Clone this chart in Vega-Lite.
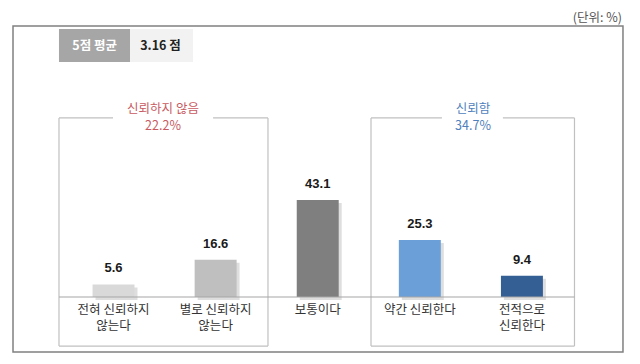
{
  "$schema": "https://vega.github.io/schema/vega-lite/v6.json",
  "width": 640,
  "height": 364,
  "padding": 0,
  "autosize": {"type": "fit", "contains": "padding"},
  "background": "#ffffff",
  "config": {"view": {"stroke": null}},
  "datasets": {
    "bars": [
      {"cat": "전혀 신뢰하지 않는다", "label": "전혀 신뢰하지\n않는다", "value": 5.6},
      {"cat": "별로 신뢰하지 않는다", "label": "별로 신뢰하지\n않는다", "value": 16.6},
      {"cat": "보통이다", "label": "보통이다", "value": 43.1},
      {"cat": "약간 신뢰한다", "label": "약간 신뢰한다", "value": 25.3},
      {"cat": "전적으로 신뢰한다", "label": "전적으로\n신뢰한다", "value": 9.4}
    ],
    "frame": [{"x1": 0.0157, "x2": 5.99, "y1": 120.4, "y2": -24.4}],
    "boxlines": [
      {"x1": 0.466, "x2": 0.466, "y1": 79.6, "y2": -21.8},
      {"x1": 2.513, "x2": 2.513, "y1": 79.6, "y2": -21.8},
      {"x1": 0.466, "x2": 2.513, "y1": -21.8, "y2": -21.8},
      {"x1": 0.466, "x2": 0.995, "y1": 79.6, "y2": 79.6},
      {"x1": 1.975, "x2": 2.513, "y1": 79.6, "y2": 79.6},
      {"x1": 3.522, "x2": 3.522, "y1": 79.6, "y2": -21.8},
      {"x1": 5.515, "x2": 5.515, "y1": 79.6, "y2": -21.8},
      {"x1": 3.522, "x2": 5.515, "y1": -21.8, "y2": -21.8},
      {"x1": 3.522, "x2": 4.217, "y1": 79.6, "y2": 79.6},
      {"x1": 4.814, "x2": 5.515, "y1": 79.6, "y2": 79.6}
    ],
    "baseline": [{"x1": 0.466, "x2": 5.515, "y1": 0, "y2": 0}],
    "badge": [
      {"part": "label", "x1": 0.466, "x2": 1.162, "y1": 119.1, "y2": 104.4},
      {"part": "value", "x1": 1.162, "x2": 1.779, "y1": 119.1, "y2": 104.4}
    ],
    "badgetext": [
      {"part": "label", "text": "5점 평균", "x": 0.816, "y": 111.7},
      {"part": "value", "text": "3.16 점", "x": 1.46, "y": 111.7}
    ],
    "groups": [
      {"group": "neg", "text": "신뢰하지 않음\n22.2%", "x": 1.485, "y": 86.2},
      {"group": "pos", "text": "신뢰함\n34.7%", "x": 4.521, "y": 86.2}
    ],
    "unit": [{"text": "(단위: %)", "x": 5.98, "y": 123.9}]
  },
  "resolve": {"scale": {"x": "independent", "color": "independent"}},
  "layer": [
    {
      "data": {"name": "bars"},
      "encoding": {
        "x": {
          "field": "cat",
          "type": "nominal",
          "sort": null,
          "axis": null,
          "scale": {
            "domain": ["전혀 신뢰하지 않는다", "별로 신뢰하지 않는다", "보통이다", "약간 신뢰한다", "전적으로 신뢰한다"],
            "paddingInner": 0.589,
            "paddingOuter": 0.9287,
            "align": 0.488
          }
        }
      },
      "layer": [
        {
          "mark": {"type": "bar", "color": "#000000", "opacity": 0.13, "xOffset": 3, "yOffset": 3},
          "encoding": {
            "y": {"field": "value", "type": "quantitative", "axis": null, "scale": {"domain": [-29.78, 132], "nice": false, "zero": false}}
          }
        },
        {
          "mark": {"type": "bar"},
          "encoding": {
            "y": {"field": "value", "type": "quantitative", "axis": null, "scale": {"domain": [-29.78, 132], "nice": false, "zero": false}},
            "color": {
              "field": "cat",
              "type": "nominal",
              "legend": null,
              "scale": {
                "domain": ["전혀 신뢰하지 않는다", "별로 신뢰하지 않는다", "보통이다", "약간 신뢰한다", "전적으로 신뢰한다"],
                "range": ["#d9d9d9", "#bfbfbf", "#7f7f7f", "#6a9fd8", "#335f95"]
              }
            }
          }
        },
        {
          "mark": {"type": "text", "font": "Liberation Sans", "fontSize": 13, "fontWeight": "bold", "color": "#1a1a1a", "baseline": "alphabetic", "dy": -12},
          "encoding": {
            "y": {"field": "value", "type": "quantitative", "axis": null, "scale": {"domain": [-29.78, 132], "nice": false, "zero": false}},
            "text": {"field": "value", "type": "quantitative", "format": ".1f"}
          }
        },
        {
          "mark": {"type": "text", "font": "Noto Sans CJK KR", "fontSize": 12.5, "color": "#333333", "baseline": "top", "dy": 7, "lineBreak": "\n", "lineHeight": 16},
          "encoding": {
            "y": {"datum": 0, "type": "quantitative", "axis": null, "scale": {"domain": [-29.78, 132], "nice": false, "zero": false}},
            "text": {"field": "label"}
          }
        }
      ]
    },
    {
      "resolve": {"scale": {"color": "independent"}},
      "layer": [
        {
          "data": {"name": "frame"},
          "mark": {"type": "rect", "fillOpacity": 0, "stroke": "#808080", "strokeWidth": 1.5},
          "encoding": {
            "x": {"field": "x1", "type": "quantitative", "axis": null, "scale": {"domain": [-0.1117, 6.1567], "nice": false, "zero": false}},
            "x2": {"field": "x2"},
            "y": {"field": "y1", "type": "quantitative", "axis": null, "scale": {"domain": [-29.78, 132], "nice": false, "zero": false}},
            "y2": {"field": "y2"}
          }
        },
        {
          "data": {"name": "boxlines"},
          "mark": {"type": "rule", "color": "#c0c0c0", "strokeWidth": 1.2},
          "encoding": {
            "x": {"field": "x1", "type": "quantitative", "axis": null, "scale": {"domain": [-0.1117, 6.1567], "nice": false, "zero": false}},
            "x2": {"field": "x2"},
            "y": {"field": "y1", "type": "quantitative", "axis": null, "scale": {"domain": [-29.78, 132], "nice": false, "zero": false}},
            "y2": {"field": "y2"}
          }
        },
        {
          "data": {"name": "baseline"},
          "mark": {"type": "rule", "color": "#a6a6a6", "strokeWidth": 1.2},
          "encoding": {
            "x": {"field": "x1", "type": "quantitative", "axis": null, "scale": {"domain": [-0.1117, 6.1567], "nice": false, "zero": false}},
            "x2": {"field": "x2"},
            "y": {"field": "y1", "type": "quantitative", "axis": null, "scale": {"domain": [-29.78, 132], "nice": false, "zero": false}},
            "y2": {"field": "y2"}
          }
        },
        {
          "data": {"name": "badge"},
          "mark": {"type": "rect"},
          "encoding": {
            "x": {"field": "x1", "type": "quantitative", "axis": null, "scale": {"domain": [-0.1117, 6.1567], "nice": false, "zero": false}},
            "x2": {"field": "x2"},
            "y": {"field": "y1", "type": "quantitative", "axis": null, "scale": {"domain": [-29.78, 132], "nice": false, "zero": false}},
            "y2": {"field": "y2"},
            "color": {"field": "part", "type": "nominal", "legend": null, "scale": {"domain": ["label", "value"], "range": ["#a6a6a6", "#f2f2f2"]}}
          }
        },
        {
          "data": {"name": "badgetext"},
          "mark": {"type": "text", "font": "Noto Sans CJK KR", "fontSize": 12.5, "fontWeight": "bold", "baseline": "middle", "align": "center"},
          "encoding": {
            "x": {"field": "x", "type": "quantitative", "axis": null, "scale": {"domain": [-0.1117, 6.1567], "nice": false, "zero": false}},
            "y": {"field": "y", "type": "quantitative", "axis": null, "scale": {"domain": [-29.78, 132], "nice": false, "zero": false}},
            "text": {"field": "text"},
            "color": {"field": "part", "type": "nominal", "legend": null, "scale": {"domain": ["label", "value"], "range": ["#ffffff", "#222222"]}}
          }
        },
        {
          "data": {"name": "groups"},
          "mark": {"type": "text", "font": "Noto Sans CJK KR", "fontSize": 12.5, "baseline": "top", "align": "center", "lineBreak": "\n", "lineHeight": 17},
          "encoding": {
            "x": {"field": "x", "type": "quantitative", "axis": null, "scale": {"domain": [-0.1117, 6.1567], "nice": false, "zero": false}},
            "y": {"field": "y", "type": "quantitative", "axis": null, "scale": {"domain": [-29.78, 132], "nice": false, "zero": false}},
            "text": {"field": "text"},
            "color": {"field": "group", "type": "nominal", "legend": null, "scale": {"domain": ["neg", "pos"], "range": ["#c85a5f", "#4f7fbd"]}}
          }
        },
        {
          "data": {"name": "unit"},
          "mark": {"type": "text", "font": "Noto Sans CJK KR", "fontSize": 12.5, "baseline": "middle", "align": "right", "color": "#555555"},
          "encoding": {
            "x": {"field": "x", "type": "quantitative", "axis": null, "scale": {"domain": [-0.1117, 6.1567], "nice": false, "zero": false}},
            "y": {"field": "y", "type": "quantitative", "axis": null, "scale": {"domain": [-29.78, 132], "nice": false, "zero": false}},
            "text": {"field": "text"}
          }
        }
      ]
    }
  ]
}
